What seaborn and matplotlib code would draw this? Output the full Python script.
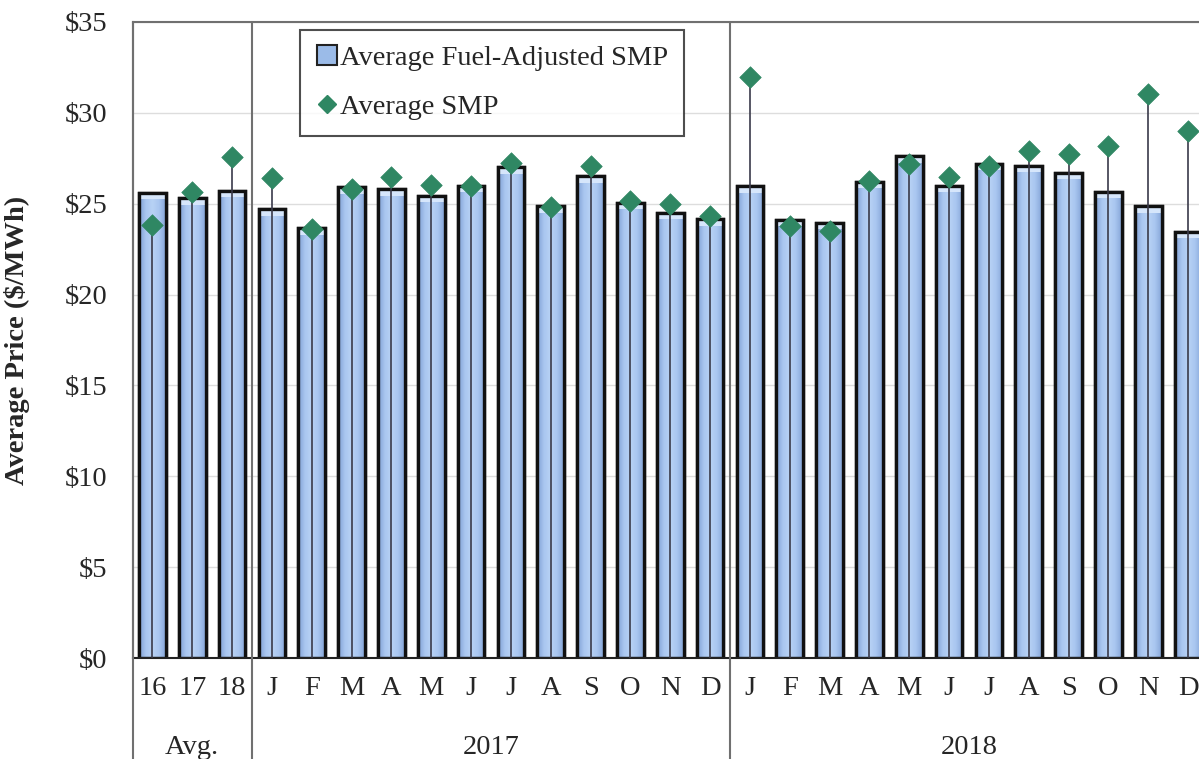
import numpy as np
import pandas as pd
import matplotlib
matplotlib.use("Agg")
import matplotlib.pyplot as plt
import matplotlib.transforms as mtransforms
from matplotlib.lines import Line2D
from matplotlib.colors import LinearSegmentedColormap
import seaborn as sns

# ---- data ----
tick_labels = ["16", "17", "18",
               "J", "F", "M", "A", "M", "J", "J", "A", "S", "O", "N", "D",
               "J", "F", "M", "A", "M", "J", "J", "A", "S", "O", "N", "D"]
groups = ["Avg.", "2017", "2018"]
group_sizes = [3, 12, 12]
fuel_adjusted_smp = [25.6, 25.3, 25.7,
                     24.7, 23.65, 25.9, 25.8, 25.45, 26.0, 27.0, 24.85, 26.5, 25.05, 24.5, 24.15,
                     25.95, 24.1, 23.95, 26.2, 27.6, 26.0, 27.2, 27.1, 26.7, 25.65, 24.85, 23.45]
average_smp = [23.85, 25.65, 27.55,
               26.4, 23.6, 25.8, 26.45, 26.05, 25.95, 27.25, 24.8, 27.05, 25.15, 25.0, 24.3,
               32.0, 23.75, 23.5, 26.25, 27.2, 26.45, 27.05, 27.9, 27.75, 28.15, 31.05, 29.0]

keys = [f"{i:02d}_{t}" for i, t in enumerate(tick_labels)]
df = pd.DataFrame({"key": keys, "fuel": fuel_adjusted_smp, "smp": average_smp})

serif = ["Liberation Serif", "DejaVu Serif"]
sns.set_style("white")
plt.rcParams["font.family"] = serif
FS = 20.5

fig = plt.figure(figsize=(11.99, 7.59), dpi=100)
ax = fig.add_axes([132.5 / 1199, 1 - 658 / 759, (1208 - 132.5) / 1199, 636 / 759])

bar_color = "#9bbbe8"
green = "#2f8763"
sns.barplot(data=df, x="key", y="fuel", order=keys, color=bar_color, width=0.67,
            edgecolor="#111111", linewidth=2.4, saturation=1, ax=ax, zorder=2)

# subtle horizontal shading inside each bar (decoration only)
cmap = LinearSegmentedColormap.from_list(
    "barshade", ["#7f9fd3", "#a9c6f0", "#b8d2f5", "#a9c6f0", "#86a6d8"])
grad = np.linspace(0, 1, 64).reshape(1, -1)
for p in list(ax.patches):
    x0, y0 = p.get_x(), p.get_y()
    w, h = p.get_width(), p.get_height()
    im = ax.imshow(grad, cmap=cmap, aspect="auto", extent=[x0, x0 + w, y0, y0 + h],
                   zorder=2.1, interpolation="bicubic")
    im.set_clip_path(p)
    ax.add_patch(plt.Rectangle((x0, y0), w, h, fill=False, edgecolor="#111111",
                               linewidth=2.4, zorder=2.2))
    top = plt.Rectangle((x0, y0 + h - 0.35), w, 0.35, facecolor="#d6e6fb",
                        edgecolor="none", zorder=2.15)
    ax.add_patch(top)

x = np.arange(len(keys))
ax.vlines(x, 0, df["smp"], color="#3a3a4a", linewidth=1.2, zorder=3)
sns.scatterplot(x=x, y=df["smp"], marker="D", s=120, color=green,
                edgecolor=green, linewidth=0.5, ax=ax, zorder=4, legend=False)

ax.set_xlim(-0.5, len(keys) - 0.5)
ax.set_ylim(0, 35)
ax.set_yticks(np.arange(0, 36, 5))
ax.set_yticklabels([f"${v}" for v in range(0, 36, 5)], fontsize=FS)
ax.yaxis.grid(True, color="#dddddd", linewidth=1.0, zorder=0)
ax.set_axisbelow(True)
ax.set_xticks(x)
ax.set_xticklabels(tick_labels, fontsize=FS)
ax.tick_params(axis="x", length=0, pad=13)
ax.tick_params(axis="y", length=0, pad=18)
ax.set_xlabel("")
ax.set_ylabel("Average Price ($/MWh)", fontsize=FS, fontweight="bold")
ax.yaxis.set_label_coords((30 - 132.5) / 1075.5, 0.5)

for s in ["left", "top", "right"]:
    ax.spines[s].set_color("#707070")
    ax.spines[s].set_linewidth(1.5)
ax.spines["bottom"].set_color("#222222")
ax.spines["bottom"].set_linewidth(1.5)

trans = mtransforms.blended_transform_factory(ax.transData, ax.transAxes)
bounds = np.cumsum([0] + group_sizes) - 0.5
for b in bounds[:-1]:
    ax.plot([b, b], [1, -0.16], transform=trans, color="#707070", linewidth=1.5,
            clip_on=False, zorder=5)
for g, lo, hi in zip(groups, bounds[:-1], bounds[1:]):
    ax.text((lo + hi) / 2, -0.14, g, transform=trans, ha="center", va="center",
            fontsize=FS)

handles = [
    Line2D([], [], marker="s", linestyle="none", markersize=14,
           markerfacecolor=bar_color, markeredgecolor="#222222", markeredgewidth=1.5),
    Line2D([], [], marker="D", linestyle="none", markersize=9,
           markerfacecolor=green, markeredgecolor=green),
]
leg = ax.legend(handles, ["Average Fuel-Adjusted SMP", "Average SMP"],
                loc="upper left", bbox_to_anchor=(0.156, 0.988), fontsize=FS,
                frameon=True, fancybox=False, handletextpad=0.05, handlelength=0.8,
                borderpad=0.55, labelspacing=0.8, borderaxespad=0)
leg.get_frame().set_edgecolor("#222222")
leg.get_frame().set_linewidth(1.5)
leg.set_zorder(6)

fig.savefig("out.png", dpi=100)
